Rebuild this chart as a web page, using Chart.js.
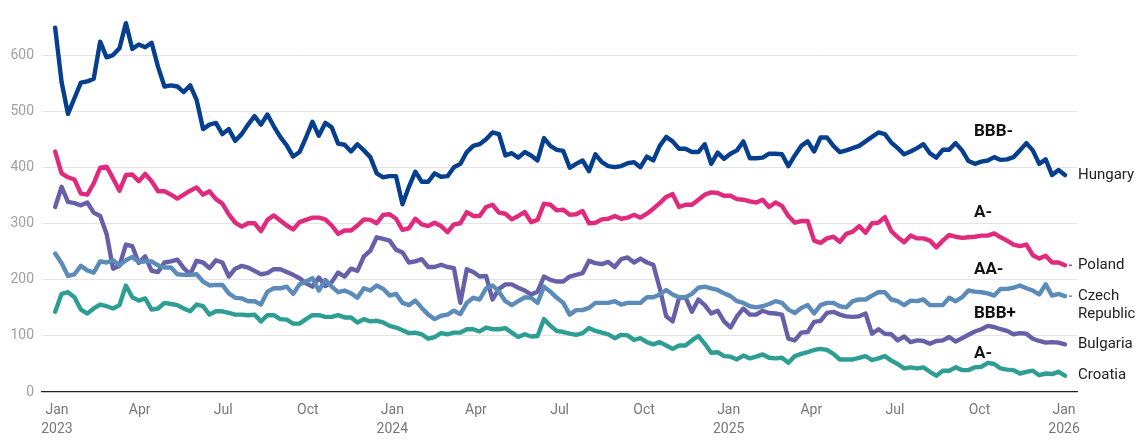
<!DOCTYPE html>
<html><head><meta charset="utf-8">
<script src="https://cdn.jsdelivr.net/npm/chart.js@4"></script>
<style>html,body{margin:0;padding:0;background:#fff}#wrap{width:1141px;height:442px;position:relative}</style>
</head><body><div id="wrap"><canvas id="c"></canvas></div>
<script>
const startDate = '2022-12-30';
const countries = ['Hungary', 'Poland', 'Czech Republic', 'Bulgaria', 'Croatia'];
const ratings = ['BBB-', 'A-', 'AA-', 'BBB+', 'A-'];

const hungary = [650,553,496,524,552,554,559,625,597,601,613,658,612,620,615,623,580,545,547,545,535,547,521,469,477,480,460,469,448,460,477,492,477,495,474,455,440,420,428,454,482,457,480,472,443,441,429,442,431,419,390,383,385,385,335,366,393,375,375,390,384,385,401,407,428,439,442,451,463,460,422,426,418,428,422,413,453,439,432,430,400,407,413,394,424,410,403,401,403,408,410,401,420,413,439,455,447,434,434,428,428,442,407,427,416,425,431,447,417,417,418,425,425,424,403,422,439,447,429,454,454,439,428,431,435,439,447,455,463,460,445,435,424,429,435,442,426,418,432,432,444,431,412,407,411,413,419,414,415,419,431,444,431,407,415,387,396,387];
const poland = [429,390,383,379,354,352,372,400,402,381,359,387,388,376,389,376,358,358,352,345,352,359,365,352,358,344,336,317,302,295,301,301,287,307,315,306,297,290,303,307,311,311,308,297,282,288,288,297,308,307,301,316,317,309,289,292,309,299,296,302,296,285,299,301,321,314,314,330,334,320,318,308,314,321,303,307,336,334,324,325,316,317,323,301,302,308,309,314,309,311,316,311,318,327,337,348,353,330,334,334,343,352,356,355,350,350,344,343,340,338,343,330,338,332,314,302,305,305,270,266,274,277,268,282,286,296,284,301,302,312,287,276,267,279,274,274,270,258,270,280,277,275,276,277,279,279,283,276,270,263,260,263,244,238,243,231,231,226];
const czech = [247,230,207,210,225,217,213,233,231,235,226,235,241,232,233,233,226,222,222,210,209,209,210,197,190,191,191,176,168,167,162,162,156,179,185,185,188,175,192,197,203,181,200,188,178,181,176,168,185,181,190,184,172,175,159,155,163,150,138,130,136,138,145,139,159,168,165,185,190,179,162,155,162,169,168,159,188,179,168,159,138,146,146,150,159,159,159,162,156,159,159,159,169,169,174,182,174,169,169,175,186,188,185,182,176,171,162,159,153,151,153,157,162,159,147,141,150,155,140,155,159,159,153,151,162,165,165,172,178,178,165,162,155,163,162,165,155,155,155,168,162,169,181,179,178,176,172,184,184,186,190,185,181,174,192,172,175,171];
const bulgaria = [330,366,339,337,333,338,320,314,282,220,225,263,260,230,242,216,214,231,233,236,221,210,234,231,221,235,231,206,220,225,222,216,210,212,219,219,214,209,203,194,188,204,189,196,213,206,220,216,242,252,276,273,270,254,249,231,233,237,223,223,227,223,221,159,219,214,206,207,165,184,192,192,186,181,174,179,206,200,197,197,206,209,212,234,230,228,232,223,237,240,231,238,231,227,185,135,126,168,169,143,165,155,140,145,126,115,135,149,138,138,145,141,140,138,95,92,106,107,125,127,141,143,138,135,134,135,140,104,112,104,103,92,99,89,92,91,86,91,92,98,90,96,102,108,112,118,116,112,109,103,105,104,95,91,88,89,88,85];
const croatia = [143,175,178,169,147,140,149,156,153,149,155,190,169,163,167,147,149,159,157,155,149,144,156,153,138,144,144,141,138,138,137,138,126,137,137,130,129,122,122,130,137,137,134,134,137,133,133,124,130,126,127,124,118,115,110,105,106,103,95,98,105,103,106,106,112,112,108,115,112,112,114,106,98,103,99,100,130,118,109,107,104,102,105,114,109,106,103,96,102,101,93,96,89,85,89,83,77,83,83,92,100,86,70,71,64,63,58,65,60,63,67,61,60,61,52,64,68,71,75,77,75,68,58,58,58,61,64,57,60,64,56,50,42,44,42,44,36,29,38,38,44,39,39,44,45,52,50,42,40,39,33,36,38,30,33,32,36,29];

const yTickValues = [0, 100, 200, 300, 400, 500, 600];
const xTickDates = ['2023-01-01','2023-04-01','2023-07-01','2023-10-01','2024-01-01','2024-04-01','2024-07-01','2024-10-01','2025-01-01','2025-04-01','2025-07-01','2025-10-01','2026-01-01'];
const xTickLabels = [['Jan','2023'],'Apr','Jul','Oct',['Jan','2024'],'Apr','Jul','Oct',['Jan','2025'],'Apr','Jul','Oct',['Jan','2026']];

const dayOf = s => (Date.parse(s + 'T00:00:00Z') - Date.parse('2023-01-01T00:00:00Z')) / 86400000;
const toPoints = vals => vals.map((v, i) => ({ x: dayOf(startDate) + 7 * i, y: v }));

const seriesValues = [hungary, poland, czech, bulgaria, croatia];
const colors = ['#053f8d', '#df2a7e', '#5b8bb9', '#6660a9', '#2e9e94'];
const connectors = [false, true, true, false, false];

const labelPlugin = {
  id: 'endLabels',
  afterDatasetsDraw(chart, args, opts) {
    const ctx = chart.ctx, area = chart.chartArea;
    const xs = chart.scales.x, ys = chart.scales.y;
    ctx.save();
    chart.data.datasets.forEach((ds, i) => {
      const meta = chart.getDatasetMeta(i);
      const p = meta.data[meta.data.length - 1];
      if (connectors[i]) {
        ctx.strokeStyle = ds.borderColor; ctx.lineWidth = 1.5;
        ctx.beginPath(); ctx.moveTo(p.x + 4, p.y); ctx.lineTo(p.x + 7, p.y); ctx.stroke();
      }
      ctx.font = '15px Roboto'; ctx.fillStyle = '#222';
      ctx.textBaseline = 'middle'; ctx.textAlign = 'left';
      ds.label.split(' ').forEach((t, k) => ctx.fillText(t, area.right + 1, p.y + k * 18));
      ctx.font = 'bold 17px Roboto'; ctx.fillStyle = '#111';
      ctx.fillText(ratings[i], xs.getPixelForValue(dayOf(opts.ratingDate)), ys.getPixelForValue(opts.ratingValues[i]));
    });
    ctx.restore();
  }
};

new Chart(document.getElementById('c'), {
  type: 'line',
  data: {
    datasets: countries.map((c, i) => ({
      label: c,
      data: toPoints(seriesValues[i]),
      borderColor: colors[i],
      backgroundColor: colors[i],
      borderWidth: 4.4,
      pointRadius: 0,
      tension: 0,
      borderJoinStyle: 'round',
      borderCapStyle: 'round',
      fill: false
    }))
  },
  options: {
    responsive: true,
    maintainAspectRatio: false,
    animation: false,
    layout: { padding: { left: 0, right: 64, top: 10, bottom: 0 } },
    plugins: {
      legend: { display: false },
      tooltip: { enabled: false },
      endLabels: { ratingDate: '2025-09-25', ratingValues: [465, 320, 218, 139, 69] }
    },
    scales: {
      x: {
        type: 'linear',
        min: -16.3, max: 1110.1,
        afterBuildTicks: s => { s.ticks = xTickDates.map(d => ({ value: dayOf(d) })); },
        afterFit: s => { s.height = 50; },
        grid: { display: false, drawTicks: false },
        border: { display: true, color: '#222', width: 1.3 },
        ticks: {
          autoSkip: false, maxRotation: 0, padding: 9,
          color: '#777', font: { family: 'Roboto', size: 14, lineHeight: 1.35 },
          callback: (v, idx) => xTickLabels[idx]
        }
      },
      y: {
        min: 0, max: 670,
        afterBuildTicks: s => { s.ticks = yTickValues.map(v => ({ value: v })); },
        afterFit: s => { s.width = 42; },
        grid: { color: c => (c.tick && c.tick.value === 0) ? 'rgba(0,0,0,0)' : '#e3e3e3', drawTicks: false },
        border: { display: false },
        ticks: { padding: 8, color: '#a0a0a0', font: { family: 'Roboto', size: 14 } }
      }
    }
  },
  plugins: [labelPlugin]
});
</script>
</body></html>
